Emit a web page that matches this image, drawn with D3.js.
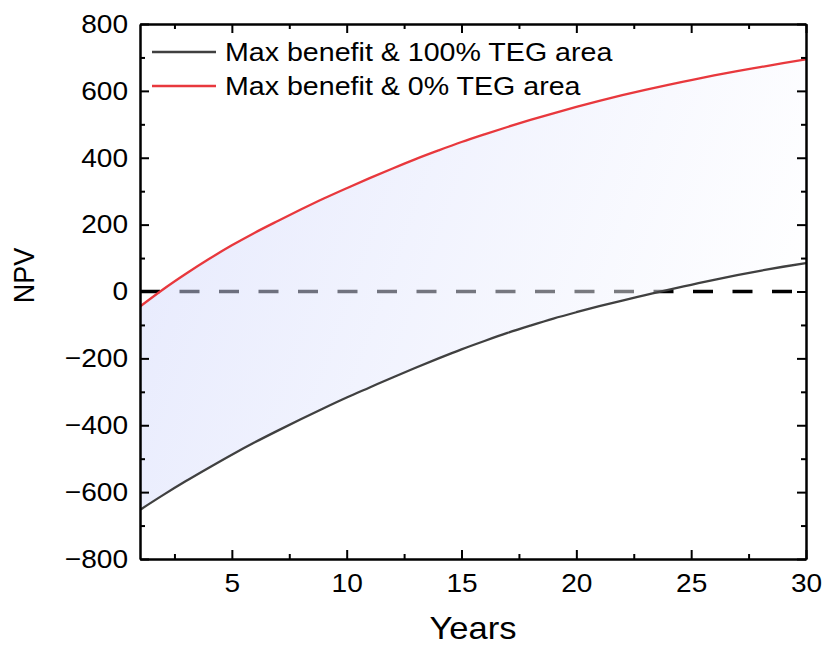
<!DOCTYPE html>
<html>
<head>
<meta charset="utf-8">
<script src="https://cdn.jsdelivr.net/npm/d3@7"></script>
<style>
  body { margin: 0; background: #fff; }
  text { font-family: "Liberation Sans", Arial, sans-serif; fill: #000; }
</style>
</head>
<body>
<div id="chart-area"></div>
<script>
// values
var years = [1,2,3,4,5,6,7,8,9,10,11,12,13,14,15,16,17,18,19,20,21,22,23,24,25,26,27,28,29,30];
var npvFullTeg = [-653,-609,-567,-527,-488,-451,-416,-382,-349,-317,-287,-257,-228,-200,-173,-148,-124,-102,-81,-62,-44,-27,-11,5,20,35,49,62,74,85];
var npvNoTeg = [-45,6,53,97,138,176,211,245,278,309,339,368,396,422,447,470,492,513,533,552,570,587,603,618,632,646,659,671,683,694];
var seriesNames = ["Max benefit & 100% TEG area", "Max benefit & 0% TEG area"];
var seriesColors = ["#404040", "#e8383d"];
var xMajor = [5,10,15,20,25,30];
var xMinor = [2.5,7.5,12.5,17.5,22.5,27.5];
var yMajor = [-800,-600,-400,-200,0,200,400,600,800];
var yMinor = [-700,-500,-300,-100,100,300,500,700];

var margin = { left:140, right:17, top:24, bottom:88 };
var width = 823 - margin.left - margin.right,
    height = 647 - margin.top - margin.bottom;
var sx = 1.08; // the reference text is a bit wide

var svg = d3.select("#chart-area")
    .append("svg")
        .attr("width", 823)
        .attr("height", 647);

var defs = svg.append("defs");
var grad = defs.append("linearGradient")
    .attr("id", "bandFill")
    .attr("gradientUnits", "userSpaceOnUse")
    .attr("x1", 0).attr("y1", 40)
    .attr("x2", width).attr("y2", 280);
grad.append("stop").attr("offset", 0).attr("stop-color", "#cdd4fb");
grad.append("stop").attr("offset", 1).attr("stop-color", "#ffffff");

defs.append("clipPath").attr("id", "plotClip")
    .append("rect").attr("width", width).attr("height", height);

var g = svg.append("g")
    .attr("transform", "translate(" + margin.left + "," + margin.top + ")");

var x = d3.scaleLinear().domain([1, 30]).range([0, width]);
var y = d3.scaleLinear().domain([-800, 800]).range([height, 0]);

var plot = g.append("g").attr("clip-path", "url(#plotClip)");

// zero line
plot.append("line")
    .attr("x1", x(1)).attr("x2", x(30))
    .attr("y1", y(0)).attr("y2", y(0))
    .attr("stroke", "#000")
    .attr("stroke-width", 3.5)
    .attr("stroke-dasharray", "20,19.5");

// band between the two series
var band = d3.area()
    .x(function(d, i) { return x(years[i]); })
    .y0(function(d, i) { return y(npvFullTeg[i]); })
    .y1(function(d, i) { return y(npvNoTeg[i]); })
    .curve(d3.curveMonotoneX);

plot.append("path")
    .datum(years)
    .attr("d", band)
    .attr("fill", "url(#bandFill)")
    .attr("fill-opacity", 0.5);

var line = d3.line()
    .x(function(d, i) { return x(years[i]); })
    .y(function(d) { return y(d); })
    .curve(d3.curveMonotoneX);

[npvFullTeg, npvNoTeg].forEach(function(s, k) {
    plot.append("path")
        .datum(s)
        .attr("d", line)
        .attr("fill", "none")
        .attr("stroke", seriesColors[k])
        .attr("stroke-width", 2.3);
});

// axes, ticks pointing in
function styleAxis(sel) {
    sel.selectAll("path.domain").attr("stroke", "#000").attr("stroke-width", 2);
    sel.selectAll(".tick line").attr("stroke", "#000").attr("stroke-width", 2);
    sel.selectAll("text").attr("font-size", "26px").attr("fill", "#000")
        .style("font-family", "'Liberation Sans', Arial, sans-serif");
}

var xAxis = g.append("g")
    .attr("transform", "translate(0," + height + ")")
    .call(d3.axisBottom(x).tickValues(xMajor).tickSize(-9).tickSizeOuter(0).tickPadding(15));
g.append("g").attr("transform", "translate(0," + height + ")")
    .call(d3.axisBottom(x).tickValues(xMinor).tickSize(-5).tickSizeOuter(0).tickFormat(""));
g.append("g")
    .call(d3.axisTop(x).tickValues(xMajor).tickSize(-9).tickSizeOuter(0).tickFormat(""));
g.append("g")
    .call(d3.axisTop(x).tickValues(xMinor).tickSize(-5).tickSizeOuter(0).tickFormat(""));

var yAxis = g.append("g")
    .call(d3.axisLeft(y).tickValues(yMajor).tickSize(-9).tickSizeOuter(0).tickPadding(12)
        .tickFormat(function(d) { return d < 0 ? "\u2212" + Math.abs(d) : d; }));
g.append("g")
    .call(d3.axisLeft(y).tickValues(yMinor).tickSize(-5).tickSizeOuter(0).tickFormat(""));
g.append("g").attr("transform", "translate(" + width + ",0)")
    .call(d3.axisRight(y).tickValues(yMajor).tickSize(-9).tickSizeOuter(0).tickFormat(""));
g.append("g").attr("transform", "translate(" + width + ",0)")
    .call(d3.axisRight(y).tickValues(yMinor).tickSize(-5).tickSizeOuter(0).tickFormat(""));

g.selectAll("g").filter(function() { return this.querySelector && this.querySelector("path.domain"); })
    .call(styleAxis);

xAxis.selectAll("text").attr("transform", "scale(" + sx + ",1)");
yAxis.selectAll("text").attr("x", -12 / sx).attr("transform", "scale(" + sx + ",1)");

// X label
g.append("text")
    .attr("transform", "translate(" + (width / 2) + "," + (height + 80) + ") scale(" + sx + ",1)")
    .attr("font-size", "32px")
    .attr("text-anchor", "middle")
    .text("Years");

// Y label
g.append("text")
    .attr("transform", "translate(" + (34 - margin.left) + "," + (height / 2 - 16) + ") rotate(-90) scale(1," + sx + ")")
    .attr("font-size", "27px")
    .attr("text-anchor", "middle")
    .text("NPV");

// legend
var legend = g.append("g").attr("transform", "translate(12,28)");
seriesNames.forEach(function(name, i) {
    var row = legend.append("g").attr("transform", "translate(0," + i * 34 + ")");
    row.append("line")
        .attr("x1", 0).attr("x2", 64)
        .attr("y1", 0).attr("y2", 0)
        .attr("stroke", seriesColors[i])
        .attr("stroke-width", 2.3);
    row.append("text")
        .attr("transform", "translate(73,9) scale(1.1,1)")
        .attr("font-size", "26px")
        .text(name);
});
</script>
</body>
</html>
